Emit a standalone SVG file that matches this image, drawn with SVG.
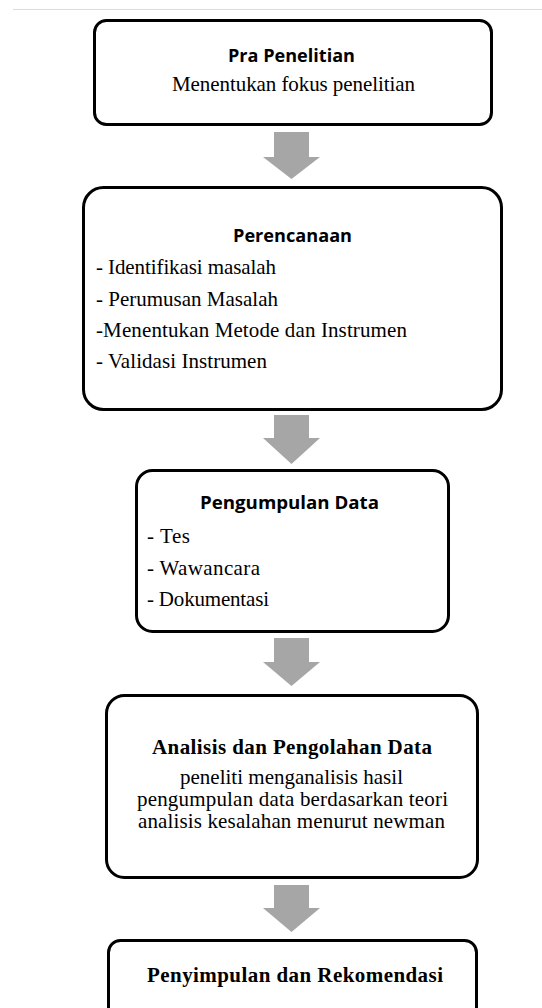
<svg xmlns="http://www.w3.org/2000/svg" width="542" height="1008" viewBox="0 0 542 1008">
<style>
.box{fill:#fff;stroke:#000;stroke-width:3}
.arr{fill:#a6a6a6}
.t{font-family:"Open Sans","Noto Sans",sans-serif;font-weight:bold;font-size:17px;fill:#000}
.s{font-family:"Liberation Serif","Times New Roman",serif;font-size:21px;fill:#000}
.sb{font-family:"Liberation Serif","Times New Roman",serif;font-size:21px;font-weight:bold;fill:#000}
</style>
<rect width="542" height="1008" fill="#fff"/>
<line x1="13" y1="9.5" x2="542" y2="9.5" stroke="#dcdcdc" stroke-width="1"/>
<g id="connectors">
<polygon class="arr" points="274,132 309,132 309,157 320,157 291.5,179 263,157 274,157"/>
<polygon class="arr" points="274,415 309,415 309,438 320,438 291.5,464 263,438 274,438"/>
<polygon class="arr" points="274,638 309,638 309,662 320,662 291.5,686 263,662 274,662"/>
<polygon class="arr" points="274,885 309,885 309,908 320,908 291.5,932 263,908 274,908"/>
</g>
<g id="node-pra">
<rect class="box" x="94.5" y="20.5" width="397" height="104" rx="12"/>
<text class="t" x="228" y="62" textLength="127" lengthAdjust="spacingAndGlyphs">Pra Penelitian</text>
<text class="s" x="172" y="91" textLength="243" lengthAdjust="spacing">Menentukan fokus penelitian</text>
</g>
<g id="node-perencanaan">
<rect class="box" x="83.5" y="187.5" width="418" height="222" rx="20"/>
<text class="t" x="233" y="242" textLength="119" lengthAdjust="spacingAndGlyphs">Perencanaan</text>
<text class="s" x="96" y="274" textLength="180" lengthAdjust="spacing">- Identifikasi masalah</text>
<text class="s" x="96" y="306" textLength="182" lengthAdjust="spacing">- Perumusan Masalah</text>
<text class="s" x="96" y="337" textLength="311" lengthAdjust="spacing">-Menentukan Metode dan Instrumen</text>
<text class="s" x="96" y="368" textLength="171" lengthAdjust="spacing">- Validasi Instrumen</text>
</g>
<g id="node-pengumpulan">
<rect class="box" x="136.5" y="470.5" width="312" height="161" rx="16"/>
<text class="t" x="200" y="509" textLength="179" lengthAdjust="spacingAndGlyphs">Pengumpulan Data</text>
<text class="s" x="147" y="543" textLength="43" lengthAdjust="spacing">- Tes</text>
<text class="s" x="147" y="575" textLength="113" lengthAdjust="spacing">- Wawancara</text>
<text class="s" x="147" y="606" textLength="122" lengthAdjust="spacing">- Dokumentasi</text>
</g>
<g id="node-analisis">
<rect class="box" x="106.5" y="695.5" width="371" height="182" rx="18"/>
<text class="sb" x="152" y="754" textLength="280" lengthAdjust="spacing">Analisis dan Pengolahan Data</text>
<text class="s" x="180" y="784" textLength="223" lengthAdjust="spacing">peneliti menganalisis hasil</text>
<text class="s" x="137" y="806" textLength="311" lengthAdjust="spacing">pengumpulan data berdasarkan teori</text>
<text class="s" x="138" y="828" textLength="307" lengthAdjust="spacing">analisis kesalahan menurut newman</text>
</g>
<g id="node-penyimpulan">
<rect class="box" x="108.5" y="940.5" width="368" height="100" rx="12"/>
<text class="sb" x="147" y="982" textLength="296" lengthAdjust="spacing">Penyimpulan dan Rekomendasi</text>
</g>
</svg>
